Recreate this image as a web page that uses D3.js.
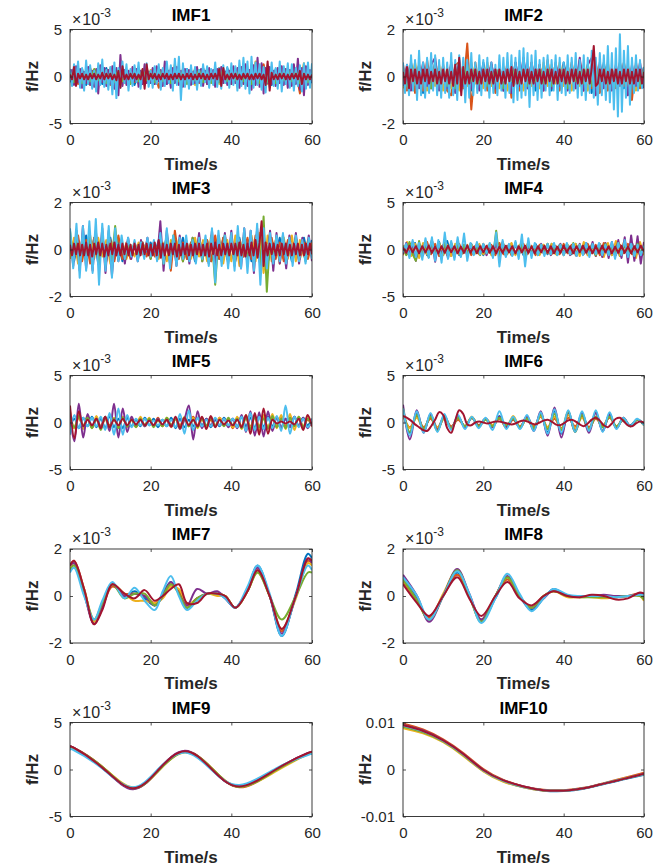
<!DOCTYPE html>
<html><head><meta charset="utf-8">
<script src="https://cdn.jsdelivr.net/npm/d3@7"></script>
<style>
body{margin:0;background:#fff;}
svg{display:block;}
text{font-family:"Liberation Sans",Arial,Helvetica,sans-serif;}
</style>
</head><body>
<svg id="c" width="662" height="867"></svg>
<script>
// ---------- categories / ticks ----------
const titles = ["IMF1","IMF2","IMF3","IMF4","IMF5","IMF6","IMF7","IMF8","IMF9","IMF10"];
const xTicks = [0,20,40,60];
const yTicksMilli5 = [-5,0,5];
const yTicksMilli2 = [-2,0,2];
const yTicksImf10 = [-0.01,0,0.01];
const colors = ["#0072BD","#D95319","#EDB120","#7E2F8E","#77AC30","#4DBEEE","#A2142F"];

// ---------- IMF1 (x1e-3), evenly sampled over 0..60 s ----------
const imf1Blue = [-0.6,0.7,-0.5,0.8,-0.9,0.6,-0.7,0.5,-0.8,0.9,-0.6,0.7,-0.5,0.8,-0.7,0.6,-0.9,0.5,-0.6,0.8,-0.7,0.9,-0.5,0.6,-0.8,0.7,-0.6,0.5,-0.9,0.8,-0.6,0.7,-0.5,0.9,-0.7,0.6,-0.8,0.5,-0.7,0.9,-0.6,0.8,-0.5,0.7,-0.9,0.6,-0.8,0.7,-0.5,0.6,-0.9,0.8,-0.6,0.7,-0.5,0.8,-0.7,0.6,-0.9,0.5,-0.7];
const imf1Orange = [-0.4,0.6,-0.8,0.5,-0.7,0.9,-0.6,0.8,-0.5,0.7,-0.9,0.6,-0.8,1.0,-0.7,0.5,-0.6,0.8,-0.7,0.9,-0.6,0.5,-1.2,0.7,-0.6,0.8,-0.5,0.7,-0.9,0.6,-0.5,0.8,-0.7,0.6,-0.8,0.5,-0.6,0.9,-0.7,0.6,-0.8,0.7,-0.5,0.9,-0.6,0.8,-0.7,0.6,1.3,-0.8,0.7,-0.6,0.9,-0.5,0.7,-0.8,0.6,-1.8,0.9,-0.7,0.6];
const imf1Yellow = [0.6,-0.5,0.8,-0.7,0.5,-0.9,0.7,-0.6,0.8,-0.5,0.9,-0.7,0.6,-0.8,0.5,-0.6,0.9,-0.7,0.6,-0.5,0.7,-0.8,0.6,-0.5,0.9,-0.7,1.3,-0.6,0.8,-0.5,0.7,-0.9,0.6,-0.7,0.8,-0.5,0.6,-0.8,0.7,-0.6,0.9,-0.5,0.7,-0.8,0.6,-0.9,1.6,-0.7,0.6,-0.8,0.7,-0.5,0.9,-0.6,0.7,-0.8,0.6,-0.5,1.4,-0.7,0.5];
const imf1Purple = [-0.5,0.7,-0.9,1.1,-0.6,0.8,-1.2,0.5,-0.7,1.0,-0.9,0.6,-1.1,0.8,-1.8,1.2,-0.6,0.9,-1.0,0.7,
 -0.8,1.1,-1.3,0.9,-2.0,2.3,-1.0,0.7,-0.9,0.6,-0.7,1.0,-0.5,0.8,-1.1,0.6,-0.8,1.3,-0.7,0.5,
 -0.6,0.9,-0.8,1.1,-0.5,0.7,-1.0,1.6,-0.8,0.6,-1.2,0.9,-0.7,1.0,-0.9,0.6,-1.1,0.8,-0.6,0.7,
 -0.9,0.5,-0.7,1.0,-0.6,0.8,-1.0,0.6,-0.8,0.9,-0.5,0.7,-1.1,0.8,-0.6,1.0,-0.7,0.5,-0.9,0.6,
 -0.8,1.1,-0.7,0.9,-1.2,1.0,-0.8,1.3,-1.0,0.7,-1.4,1.2,-0.9,2.0,-1.1,1.4,-1.8,0.9,-0.7,1.0,
 -0.8,0.6,-1.0,0.9,-0.7,1.1,-0.9,0.8,-1.2,0.7,-1.0,1.3,-0.8,1.9,-1.4,0.9,-2.0,1.1,-0.9,0.7,-0.6];
const imf1Green = [0.5,-0.6,0.4,-0.7,0.6,-0.5,0.8,-0.4,0.6,-0.7,0.5,-0.6,0.7,-0.5,0.4,-0.8,0.6,-0.5,0.7,-0.4,0.5,-0.6,0.8,-0.5,0.6,-0.7,0.4,-0.5,0.6,-0.8,0.5,-0.4,0.7,-0.6,0.5,-0.7,0.4,-0.6,0.8,-0.5,0.6,-0.4,0.7,-0.5,0.6,-0.8,0.5,-0.7,0.4,-0.6,0.5,-0.7,0.6,-0.4,0.8,-0.5,0.6,-0.7,0.5,-0.6,0.4];
const imf1LightBlue = [0.8,-1.0,1.3,-0.6,1.6,-1.2,0.9,-1.5,1.7,-0.8,1.2,-1.3,0.6,-1.6,1.4,-0.9,1.8,-1.1,0.7,-1.4,
 1.0,-1.9,1.5,-2.3,0.9,-1.2,1.6,-0.7,1.3,-1.5,0.8,-1.0,1.2,-0.6,1.5,-1.3,0.7,-0.9,1.4,-1.1,
 0.6,-1.2,1.1,-0.8,1.3,-1.4,0.9,-1.0,1.6,-0.7,1.2,-1.5,1.9,-0.9,2.1,-2.5,1.4,-1.1,0.8,-1.3,
 1.2,-0.8,1.0,-1.4,0.7,-1.0,1.3,-0.6,1.1,-1.2,0.8,-0.9,1.5,-1.1,0.9,-1.3,1.2,-0.7,1.0,-1.2,
 1.4,-0.9,1.1,-1.5,1.7,-1.0,2.0,-1.3,1.6,-1.8,2.1,-1.2,1.5,-0.9,1.3,-1.4,1.0,-1.7,1.2,-1.1,
 1.5,-1.0,0.9,-1.3,1.6,-1.6,1.1,-0.8,1.4,-1.2,1.3,-1.5,0.9,-1.0,1.2,-1.6,1.4,-1.3,1.5,-1.2,1.4];
const imf1DarkRed = [0.2,-0.3,1.0,-1.0,0.3,-0.2,0.3,-0.3,0.2,-0.3,0.3,-0.2,0.3,-0.3,0.2,-0.2,0.4,-0.3,0.3,-0.2,
 0.3,-0.3,0.2,-0.4,0.6,-1.2,1.1,-0.3,0.2,-0.3,0.3,-0.2,0.3,-0.3,0.2,-0.3,0.8,-1.3,1.3,-0.3,
 0.3,-0.2,0.3,-0.3,0.2,-0.3,0.3,-0.2,0.3,-0.3,0.2,-0.3,0.3,-0.2,0.3,-0.3,0.2,-0.3,0.3,-0.2,
 0.3,-0.3,0.2,-0.3,0.3,-0.2,0.3,-0.3,0.2,-0.3,0.3,-0.2,0.3,-0.3,0.8,-1.0,0.9,-0.3,0.2,-0.3,
 0.3,-0.2,0.3,-0.3,0.2,-0.3,0.3,-0.2,0.3,-0.3,0.2,-0.3,0.3,-0.2,0.3,-0.3,0.2,-0.9,1.6,-1.5,
 0.4,-0.3,0.2,-0.3,0.3,-0.2,0.3,-0.3,0.2,-0.3,0.3,-0.2,0.3,-0.3,0.6,-0.8,0.3,-0.3,0.2,-0.3,0.2];

// ---------- IMF2 (x1e-3) ----------
const imf2Blue = [0.4,-0.5,0.6,-0.3,0.5,-0.7,0.4,-0.5,0.6,-0.4,0.3,-0.6,0.5,-0.4,0.7,-0.5,0.4,-0.6,0.3,-0.5,0.6,-0.4,0.5,-0.3,0.4,-0.6,0.5,-0.4,0.6,-0.5,0.7,-0.4,0.5,-0.6,0.3,-0.5,0.4,-0.6,0.5,-0.4,0.6,-0.3,0.5,-0.4,0.6,-0.5,0.4,-0.7,0.5,-0.4,0.6,-0.5,0.3,-0.4,0.6,-0.5,0.4,-0.6,0.5,-0.3,0.4];
const imf2Orange = [0.5,-0.6,0.4,-0.7,0.5,-0.6,0.7,-0.5,0.6,-0.4,0.5,-0.6,-0.8,0.5,0.6,-0.5,1.4,-1.4,0.6,-0.5,0.4,-0.6,0.5,-0.7,0.4,-0.5,0.6,-0.9,0.5,-0.6,0.4,-0.5,0.6,-0.4,0.5,-0.6,0.7,-0.5,0.4,-0.6,0.5,-0.4,0.6,-0.5,0.7,-0.6,0.4,-0.5,0.6,-0.7,0.5,-0.6,0.4,-0.5,0.6,-0.4,0.5,-1.0,0.6,-0.5,0.4];
const imf2Yellow = [-0.5,0.4,-0.3,0.6,-0.4,0.5,-0.6,0.3,-0.4,0.5,-0.6,0.4,-0.5,0.3,-0.6,0.5,-0.4,0.6,-0.3,0.4,-0.5,0.6,-0.4,0.3,-0.5,0.4,-0.6,0.5,-0.3,0.4,-0.6,0.5,-0.4,0.3,-0.5,0.6,-0.4,0.5,-0.3,0.6,-0.4,0.5,-0.6,0.3,-0.4,0.5,-0.6,0.4,-0.3,0.5,-0.4,0.6,-0.5,0.3,-0.4,0.6,-0.5,0.4,-0.6,0.3,-0.4];
const imf2Purple = [-0.4,0.5,-0.6,0.4,-0.5,0.6,-0.4,0.5,0.8,-0.6,0.4,-0.5,0.6,-0.7,0.5,-0.4,0.6,-0.5,0.4,-0.6,0.5,-0.4,0.6,-0.5,0.4,-0.6,0.5,-0.7,0.6,-0.4,0.8,-0.5,0.6,-0.4,0.5,-0.6,0.4,-0.5,0.6,-0.4,0.5,-0.6,0.4,-0.5,0.8,-0.6,0.5,0.8,-0.8,0.6,-0.5,0.4,-0.6,0.5,-0.4,0.6,-0.8,0.5,-0.4,0.6,-0.5];
const imf2Green = [0.3,-0.4,0.5,-0.3,0.4,-0.2,0.3,-0.5,0.4,-0.3,0.2,-0.4,0.3,-0.5,0.4,-0.3,0.5,-0.2,0.4,-0.3,0.2,-0.4,0.3,-0.2,0.4,-0.5,0.3,-0.2,0.4,-0.3,0.5,-0.4,0.3,-0.2,0.4,-0.3,0.5,-0.4,0.2,-0.3,0.4,-0.5,0.3,-0.2,0.4,-0.3,0.5,-0.4,0.3,-0.2,0.4,-0.3,0.2,-0.4,0.5,-0.3,0.4,-0.2,0.3,-0.4,0.3];
const imf2LightBlue = [0.6,-0.7,0.5,-0.8,0.9,-0.6,0.7,-1.0,1.1,-0.8,0.6,-0.9,0.8,-0.7,1.0,-0.6,0.9,-0.8,0.7,-0.9,
 0.8,-0.7,0.6,-0.9,1.0,-0.8,0.7,-1.0,0.9,-0.6,0.8,-1.1,0.7,-0.9,1.0,-0.8,0.6,-0.7,0.9,-0.8,
 0.7,-0.6,0.8,-0.9,0.6,-0.7,0.5,-0.8,0.9,-0.6,0.8,-0.9,1.0,-0.7,0.9,-1.1,0.8,-1.0,1.1,-0.9,
 1.2,-0.8,1.0,-1.3,0.9,-0.8,1.1,-1.0,0.7,-0.9,0.8,-0.6,0.9,-0.8,0.7,-0.6,0.9,-1.0,0.8,-0.7,
 0.6,-0.8,0.9,-0.7,0.8,-0.6,1.0,-0.9,0.7,-0.8,0.9,-1.0,0.8,-0.7,1.1,-0.9,0.8,-1.2,1.0,-0.8,
 0.9,-1.0,1.3,-1.1,1.0,-1.4,1.2,-1.7,1.8,-1.5,1.1,-0.9,1.3,-1.2,0.8,-0.7,0.9,-0.6,0.7,-0.5,0.4];
const imf2DarkRed = [0.2,-0.3,0.4,-0.5,0.3,-0.2,0.3,-0.3,0.2,-0.3,0.3,-0.2,0.3,-0.3,0.2,-0.2,0.3,-0.3,0.2,-0.3,
 0.3,-0.2,0.3,-0.3,0.2,-0.4,0.5,-0.3,0.8,-0.8,0.4,-0.3,0.2,-0.3,0.3,-0.2,0.3,-0.3,0.2,-0.3,
 0.3,-0.2,0.3,-0.3,0.2,-0.3,0.3,-0.2,0.3,-0.3,0.2,-0.3,0.3,-0.2,0.4,-0.4,0.3,-0.3,0.2,-0.3,
 0.3,-0.2,0.3,-0.3,0.2,-0.3,0.3,-0.2,0.3,-0.3,0.2,-0.3,0.3,-0.2,0.3,-0.3,0.2,-0.3,0.3,-0.2,
 0.3,-0.3,0.2,-0.3,0.3,-0.2,0.3,-0.3,0.2,-0.3,0.3,-0.2,0.3,-0.3,0.4,1.3,-0.4,-0.3,0.3,-0.2,
 0.3,-0.3,0.2,-0.3,0.3,-0.2,0.3,-0.3,0.2,-0.3,0.3,-0.2,0.3,-0.3,0.2,-0.3,0.3,-0.2,0.3,-0.3,0.2];

// ---------- IMF3 (x1e-3) ----------
const imf3Blue = [0.3,-0.5,0.4,-0.3,0.6,-0.4,0.5,-0.6,0.4,-0.3,0.5,-0.4,0.3,-0.5,0.2,-0.3,0.2,-0.3,0.3,-0.2,0.3,-0.2,0.4,-0.3,0.6,-0.5,0.4,-0.3,0.5,-0.4,0.3,-0.5,0.4,-0.3,0.4,-0.5,0.3,-0.4,0.5,-0.4,0.3,-0.4,0.5,-0.3,0.4,-0.5,0.3,-0.4,0.5,-0.6,0.4,-0.3,0.5,-0.4,0.3,-0.5,0.4,-0.3,0.5,-0.3,0.4];
const imf3Orange = [0.5,-0.4,0.6,-0.5,0.4,-0.6,0.5,-0.4,0.6,-0.5,0.4,-0.5,0.6,-0.4,0.3,-0.4,0.3,-0.2,0.3,-0.3,0.2,-0.3,0.3,-0.4,0.5,-0.9,0.8,-0.4,0.3,-0.4,0.3,-0.4,0.5,-0.3,0.4,-0.5,0.6,-0.4,0.5,-0.4,0.3,-0.5,0.4,-0.3,0.5,-0.4,0.6,-0.5,0.4,-0.6,0.5,-0.4,0.3,-0.5,0.4,-0.3,0.5,-0.4,0.3,-0.4,0.3];
const imf3Yellow = [-0.4,0.5,-0.6,0.4,-0.5,0.6,-0.4,0.5,-0.3,0.4,-0.6,0.5,-0.4,0.3,-0.4,0.2,-0.3,0.3,-0.2,0.3,-0.3,0.2,-0.4,0.3,-0.5,0.4,-0.3,0.4,-0.5,0.3,-0.4,0.5,-0.3,0.4,-0.5,0.6,-0.4,0.5,-0.6,0.4,-0.5,0.6,-0.7,0.5,-0.4,0.6,-0.5,0.7,-1.0,0.6,-0.5,0.4,-0.6,0.5,-0.4,0.6,-0.5,0.4,-0.3,0.4,-0.3];
const imf3Purple = [0.6,-0.7,0.8,-0.9,1.0,-0.8,0.7,-0.9,0.8,-0.7,0.9,-1.0,0.8,-1.1,0.6,
 -0.5,0.4,-0.6,0.5,-0.4,0.3,-0.5,0.4,-0.3,0.5,-0.4,0.3,-0.4,
 1.2,-0.9,0.8,-0.6,0.5,-0.7,
 0.6,-0.5,0.4,-0.6,0.5,-0.4,0.7,-0.5,0.4,
 -0.6,0.8,-0.7,0.6,-0.5,0.7,
 -0.6,0.8,-0.7,0.6,-0.8,0.9,-0.7,0.8,-1.0,0.9,-0.8,0.7,-0.6,0.8,-0.9,
 0.7,-0.6,0.5,-0.8,0.6,-0.5,0.7,-0.6,0.5,-0.4,0.6,-0.5];
const imf3Green = [0.8,-0.4,0.5,-0.6,0.4,-0.5,0.6,-0.4,0.5,-0.6,0.4,-0.5,0.6,-0.4,1.0,
 -0.4,0.3,-0.4,0.3,-0.2,0.3,-0.4,0.3,-0.2,0.3,-0.4,0.3,-0.3,
 0.5,-0.6,0.4,-0.5,0.6,-0.4,
 0.4,-0.5,0.3,-0.4,0.5,-0.3,0.4,-0.5,0.3,
 -0.5,0.4,-1.5,0.5,-0.4,0.6,
 -0.5,0.4,-0.6,0.5,-0.4,0.6,-0.5,0.4,-0.6,0.5,-0.7,1.4,-1.8,0.5,-0.4,
 0.5,-0.4,0.6,-0.5,0.4,-0.3,0.5,-0.4,0.3,-0.5,0.4,-0.3];
const imf3LightBlue = [0.9,-0.8,1.1,-1.2,1.0,-0.9,1.2,-1.0,1.3,-1.5,1.1,-0.9,1.0,-1.2,0.9,
 -0.5,0.6,-0.4,0.5,-0.3,0.4,-0.5,0.3,-0.4,0.5,-0.3,0.4,-0.5,
 0.7,-0.6,0.9,-0.8,0.6,-0.7,
 0.5,-0.4,0.6,-0.5,0.4,-0.6,0.5,-0.4,0.6,
 -0.7,0.9,-1.4,0.8,-0.7,0.6,
 -0.8,0.7,-0.9,1.0,-0.8,0.9,-1.0,0.8,-0.9,1.1,-1.5,0.9,-0.8,0.7,-0.6,
 0.6,-0.5,0.7,-0.6,0.5,-0.7,0.6,-0.5,0.4,-0.6,0.5,-0.4];
const imf3DarkRed = [0.2,-0.25,0.25,-0.2,0.25,-0.25,0.2,-0.25,0.3,-0.25,0.2,-0.3,0.25,-0.2,0.3,-0.25,0.25,-0.3,0.2,-0.25,
 0.25,-0.2,0.3,-0.25,0.2,-0.25,0.25,-0.2,0.25,-0.25,0.2,-0.25,0.25,-0.2,0.2,-0.25,0.25,-0.2,0.25,-0.25,
 0.2,-0.25,0.3,-0.25,0.4,-0.35,0.25,-0.25,0.2,-0.25,0.25,-0.2,0.25,-0.3,0.2,-0.25,0.25,-0.2,0.25,-0.25,
 0.2,-0.25,0.25,-0.2,0.25,-0.25,0.2,-0.25,0.25,-0.3,0.25,-0.2,0.3,-0.25,0.2,-0.25,0.25,-0.2,0.25,-0.25,
 0.25,-0.2,0.25,-0.25,0.3,-0.25,0.2,-0.3,0.25,-0.25,0.3,-0.25,0.4,-0.35,0.3,1.2,-0.7,0.3,-0.25,0.25,
 -0.2,0.25,-0.25,0.2,-0.25,0.25,-0.2,0.25,-0.25,0.2,-0.25,0.25,-0.2,0.25,-0.25,0.2,-0.25,0.25,-0.2,0.25,-0.2];

// ---------- IMF4 (x1e-3) ----------
const imf4Blue = [-0.5,0.6,-0.4,0.7,-0.8,0.5,-0.6,0.7,-0.5,0.8,-0.6,0.9,-0.7,0.5,-0.6,0.4,-0.5,0.6,-0.4,0.5,-0.6,0.4,-0.5,0.7,-0.6,0.5,-0.4,0.6,-0.5,0.4,-0.6,0.5,-0.4,0.6,-0.5,0.4,-0.5,0.6,-0.4,0.5,-0.6,0.4,-0.5,0.6,-0.4,0.5,-0.6,0.5,-0.4,0.6,-0.5,0.4,-0.6,0.5,-0.7,0.6,-0.5,0.7,-0.6,0.5,-0.4];
const imf4Orange = [0.4,-0.5,0.6,-0.7,0.5,-0.6,0.8,-0.5,0.6,-0.7,0.5,-0.6,0.4,-0.5,0.6,-0.4,0.5,-0.6,0.4,-0.5,0.6,-0.4,0.5,-0.6,0.7,-0.5,0.4,-0.6,0.5,-0.4,0.6,-0.5,0.4,-0.6,0.5,-0.4,0.6,-0.5,0.4,-0.5,0.6,-0.4,0.5,-0.6,0.4,-0.5,0.6,-0.4,0.5,-0.6,0.7,-0.5,0.4,-0.6,0.5,-0.4,0.6,-0.5,0.4,-0.6,0.5];
const imf4Yellow = [-0.6,0.8,-0.7,0.6,-0.9,0.7,-0.5,0.6,-0.8,0.7,-0.6,0.5,-0.7,0.6,-0.5,0.4,-0.6,0.5,-0.4,0.6,-0.5,0.4,-0.6,0.5,-0.4,0.6,-0.5,0.7,-0.6,0.5,-0.4,0.6,-0.5,0.4,-0.6,0.5,-0.4,0.6,-0.5,0.4,-0.6,0.5,-0.4,0.6,-0.7,0.8,-0.6,0.5,-0.7,0.6,-0.8,0.7,-0.6,0.9,-0.7,0.8,-0.6,0.7,-0.9,0.8,-0.6];
const imf4Purple = [-0.5,0.7,-0.6,0.8,-1.2,0.6,-0.7,0.9,-0.8,1.0,-1.3,0.7,-0.6,0.8,-0.9,
 0.7,-0.8,0.6,-0.7,0.5,-0.6,0.4,-0.5,0.6,-0.4,0.5,-0.6,0.4,
 -0.5,0.7,-0.6,0.8,-0.7,0.5,
 -0.6,0.7,-0.5,0.6,-0.7,0.5,-0.6,0.4,-0.5,
 0.6,-0.4,0.5,-0.6,0.4,-0.5,
 0.6,-0.5,0.4,-0.6,0.5,-0.7,0.6,-0.5,0.7,-0.6,0.8,-0.7,0.6,-0.8,0.7,
 -0.9,0.8,-0.7,1.0,-0.9,1.3,-1.4,1.5,-1.2,1.4,-1.5,0.8];
const imf4Green = [0.4,-0.6,0.8,-0.5,-1.2,0.9,-0.7,0.6,-0.8,1.0,-0.7,0.6,-0.9,0.8,-0.6,
 0.7,-0.5,0.6,-0.7,0.5,-0.4,0.6,-0.5,0.4,-0.6,0.5,-0.4,0.6,
 -0.8,2.0,-1.0,0.7,-0.6,0.5,
 -0.6,0.7,-0.5,0.6,-0.8,0.6,-0.5,0.4,-0.6,
 0.5,-0.4,0.6,-0.5,0.4,-0.6,
 0.5,-0.4,0.6,-0.5,0.7,-0.6,0.5,-0.4,0.6,-0.5,0.4,-0.6,0.5,-0.4,0.6,
 -0.5,0.4,-0.6,0.7,-0.5,0.6,-0.4,0.5,-0.7,0.6,-0.5,0.4];
const imf4LightBlue = [-0.3,0.6,-0.9,1.0,-0.8,0.7,-1.1,1.2,-0.9,1.3,-1.2,1.0,-1.4,1.8,-1.0,
 0.9,-1.1,1.3,-0.8,1.7,-1.2,0.7,-0.6,0.8,-0.5,0.6,-0.4,0.7,
 -0.9,1.8,-1.8,1.0,-0.8,0.6,
 -0.7,0.9,-1.0,1.6,-1.8,1.2,-0.9,0.7,-0.6,
 0.5,-0.7,0.6,-0.5,0.7,-0.6,
 0.5,-0.6,0.7,-0.5,0.6,-0.7,0.5,-0.6,0.7,-0.8,0.6,-0.5,0.7,-0.6,0.5,
 -0.6,0.8,-1.0,0.7,-0.6,1.0,-0.8,0.6,-0.7,0.5,-0.6,0.4];
const imf4DarkRed = [0.2,-0.35,0.4,-0.3,0.35,-0.4,0.35,-0.3,0.4,-0.35,0.3,-0.4,0.35,-0.35,0.4,
 -0.3,0.35,-0.4,0.3,-0.35,0.4,-0.35,0.3,-0.4,0.35,-0.3,0.4,-0.35,
 0.35,-0.4,0.3,-0.35,0.4,-0.3,
 0.35,-0.4,0.35,-0.3,0.4,-0.35,0.3,-0.4,0.35,
 -0.3,0.4,-0.35,0.35,-0.4,0.3,
 -0.35,0.4,-0.3,0.35,-0.4,0.35,-0.3,0.4,-0.35,0.3,-0.4,0.35,-0.35,0.4,-0.3,
 0.35,-0.4,0.3,-0.35,0.4,-0.35,0.3,-0.4,0.35,-0.3,0.4,-0.2];

// ---------- IMF5 (x1e-3) ----------
const imf5Blue = [-0.5,0.4,-0.6,0.5,-0.4,0.6,-0.5,0.4,-0.6,0.7,-0.5,0.4,-0.6,0.5,-0.4,0.3,-0.4,0.5,-0.3,0.4,-0.5,0.3,-0.4,0.5,-0.6,0.4,-0.5,0.3,-0.4,0.5,-0.3,0.4,-0.5,0.3,-0.4,0.5,-0.3,0.4,-0.5,0.6,-0.4,0.5,-0.6,0.7,-0.5,0.6,-0.4,0.5,-0.6,0.4,-0.5,0.6,-0.4,0.5,-0.3,0.4];
const imf5Orange = [0.4,-0.6,0.5,-0.4,0.6,-0.5,0.3,-0.4,0.5,-0.3,0.4,-0.5,0.6,-0.4,0.3,-0.4,0.5,-0.3,0.4,-0.3,0.5,-0.4,0.3,-0.5,0.4,-0.3,0.5,-0.4,0.6,-0.3,0.4,-0.5,0.3,-0.4,0.5,-0.3,0.4,-0.6,0.5,-0.4,0.6,-0.5,0.7,-0.4,0.5,-0.6,0.4,-0.5,0.6,-0.4,0.5,-0.3,0.4,-0.5,0.3,-0.4];
const imf5Yellow = [1.2,-0.6,0.8,-0.7,0.5,-0.6,0.7,-0.5,0.4,-0.6,0.5,-0.4,0.6,-0.5,0.4,-0.5,0.6,-0.4,0.5,-0.4,0.3,-0.4,0.5,-0.3,0.4,-0.5,0.6,-0.4,0.5,-0.6,0.4,-0.5,0.6,-0.4,0.5,-0.3,0.4,-0.5,0.6,-0.7,0.8,-0.6,0.7,-0.9,0.8,-0.7,0.9,-0.6,0.8,-0.7,0.9,-0.8,0.6,-0.5,0.7,-0.4];
const imf5Purple = [0.5,-2.0,2.0,-1.6,0.9,-0.5,0.4,-0.5,0.6,-0.9,2.0,-1.6,1.5,-1.0,0.6,-0.4,0.3,-0.4,0.3,-0.3,0.4,-0.3,0.3,-0.4,0.5,-0.7,0.3,1.8,-1.8,1.2,-0.6,0.4,-0.3,0.4,-0.3,0.4,-0.5,0.4,-0.6,0.8,-1.0,1.2,-1.4,1.1,-1.5,1.2,-0.9,0.6,-0.5,0.4,-0.5,0.6,-0.4,0.5,-0.6,0.3];
const imf5Green = [0.6,-0.5,0.7,-0.4,0.5,-0.6,0.4,-0.8,0.6,-0.5,0.4,-0.6,0.5,-0.4,0.3,-0.5,0.4,-0.3,0.4,-0.5,0.3,-0.4,0.5,-0.3,0.4,-0.6,0.5,-0.4,0.3,-0.5,0.4,-0.3,0.5,-0.4,0.3,-0.4,0.5,-0.3,0.4,-0.6,0.5,-0.7,0.6,-0.5,0.4,-0.6,0.7,-0.5,0.4,-0.6,0.5,-0.4,0.6,-0.5,0.4,-0.3];
const imf5LightBlue = [-1.3,0.8,-0.6,0.5,-0.4,0.5,-0.4,0.6,-0.8,1.0,-1.3,1.5,-1.3,0.8,-0.5,0.4,-0.3,0.4,-0.3,0.2,-0.3,0.3,-0.4,0.3,-0.5,0.9,-1.2,1.3,-0.8,0.5,-0.4,0.3,-0.4,0.5,-0.3,0.4,-0.3,0.4,-0.5,0.6,-0.9,1.0,-0.8,0.6,-0.7,0.5,-0.6,0.7,-0.9,1.8,-1.2,0.6,-0.5,0.4,-0.5,0.3];
const imf5DarkRed = [1.8,-1.7,1.2,-0.4,0.3,-0.3,0.4,-0.6,0.6,-0.5,0.3,-0.3,0.4,-0.3,0.3,-0.2,0.3,-0.3,0.2,-0.3,0.3,-0.2,0.3,-0.4,0.6,-0.6,0.5,-0.3,0.3,-0.4,0.6,-0.7,0.7,-0.5,0.3,-0.2,0.2,-0.3,0.3,-0.5,0.8,-1.2,1.0,-1.3,1.5,-1.2,0.3,-0.1,0.1,-0.1,0.1,-0.2,0.4,-0.8,0.8,-0.4];

// ---------- IMF6 (x1e-3) ----------
const imf6Blue = [1.2,-1.1,0.9,-0.8,0.7,-0.6,0.5,-0.6,0.5,-0.4,0.5,-0.3,0.4,-0.5,0.7,-0.5,0.4,-0.5,0.6,-0.7,0.9,-1.0,1.2,-1.2,1.0,-0.9,1.0,-0.8,1.1,-0.9,0.9,-0.6,0.4,-0.3,0.3,-0.2];
const imf6Orange = [0.8,-0.5,0.6,-0.5,0.4,-0.6,0.5,-0.4,0.3,-0.4,0.5,-0.3,0.4,-0.3,0.4,-0.5,0.3,-0.4,0.5,-0.4,0.6,-0.5,0.4,-0.6,0.5,-0.4,0.6,-0.5,0.4,-0.3,0.5,-0.4,0.3,-0.4,0.3,-0.2];
const imf6Yellow = [1.0,-0.6,0.5,-0.7,0.6,-0.5,0.4,-0.6,0.5,-0.4,0.6,-0.5,0.4,-0.3,0.5,-0.6,0.7,-0.5,0.4,-0.6,0.7,-0.5,0.6,-0.7,0.8,-0.6,0.5,-0.7,0.6,-0.5,0.7,-0.6,0.5,-0.4,0.3,-0.3];
const imf6Purple = [1.9,-1.8,1.3,-1.1,0.9,-0.8,0.7,-0.6,0.6,-0.5,0.5,-0.4,0.4,-0.5,0.6,-0.5,0.4,-0.6,0.7,-0.9,1.2,-1.4,1.6,-1.6,1.2,-1.0,0.9,-1.1,1.0,-0.9,0.8,-0.6,0.5,-0.4,0.3,-0.2];
const imf6Green = [1.5,-1.0,0.8,-0.7,0.6,-0.9,0.7,-0.6,0.5,-0.4,0.5,-0.4,0.3,-0.4,0.5,-0.3,0.4,-0.5,0.4,-0.6,0.8,-0.7,0.9,-0.8,1.2,-1.0,0.8,-0.7,0.6,-0.5,0.6,-0.4,0.3,-0.4,0.3,-0.2];
const imf6LightBlue = [1.5,-1.4,1.2,-1.1,1.0,-1.0,0.9,-0.8,0.8,-0.7,0.6,-0.6,0.5,-0.8,1.2,-0.7,0.6,-0.7,0.8,-0.9,1.1,-1.2,1.4,-1.1,1.3,-1.0,1.2,-0.9,1.3,-1.0,1.1,-0.7,0.5,-0.4,0.4,-0.3];
const imf6DarkRed = [0.7,0.5,0.2,-0.2,-0.5,-0.8,-0.9,-0.4,0.3,1.1,0.8,-0.6,-1.1,0.2,1.3,0.9,-0.2,-0.3,0.0,0.1,0.0,-0.1,0.0,0.1,0.1,0.0,-0.1,-0.2,-0.1,0.1,0.2,0.1,-0.1,-0.2,0.0,0.2,0.3,0.1,-0.2,-0.3,-0.1,0.2,0.3,0.1,-0.2,-0.4,-0.1,0.3,0.5,0.2,-0.3,-0.5,-0.1,0.4,0.5,0.1,-0.3,-0.4,-0.1,0.1,0.0];

// ---------- IMF7 (x1e-3), values at knot times ----------
const imf7Time = [0,1,3.5,6,8,10.5,13.5,16,18.5,21,23,25,27,29,31.5,34,36.5,38.5,41,44,46.5,49.5,52.5,56,59,60];
const imf7Blue      = [1.1,1.4,0.1,-1.1,-0.4,0.5,0.0,0.2,-0.1,-0.4,0.1,0.6,0.1,-0.5,-0.1,0.1,0.1,-0.1,-0.5,0.3,1.3,0.0,-1.7,0.1,1.8,1.6];
const imf7Orange    = [1.3,1.5,0.3,-1.2,-0.5,0.4,0.1,0.1,0.0,-0.3,0.0,0.5,0.2,-0.4,-0.1,0.1,0.1,0.0,-0.5,0.2,1.1,0.0,-1.5,0.0,1.5,1.4];
const imf7Yellow    = [1.2,1.4,0.3,-1.1,-0.5,0.5,0.1,-0.2,-0.2,-0.3,-0.1,0.4,0.3,-0.3,-0.2,0.1,0.0,0.0,-0.5,0.2,1.0,0.0,-1.4,-0.1,1.4,1.3];
const imf7Purple    = [1.3,1.4,0.1,-1.2,-0.5,0.5,0.0,0.1,0.0,-0.4,0.0,0.6,0.1,-0.4,0.3,0.1,0.2,-0.1,-0.5,0.3,1.2,0.0,-1.6,0.0,1.6,1.4];
const imf7Green     = [1.1,1.3,0.2,-1.0,-0.3,0.5,-0.1,0.1,0.1,-0.4,0.0,0.5,0.1,-0.5,-0.1,0.1,0.1,0.0,-0.5,0.2,1.0,0.0,-1.0,0.0,1.0,1.0];
const imf7LightBlue = [1.0,1.2,0.0,-1.0,-0.2,0.6,-0.1,0.35,-0.2,-0.6,0.2,0.85,0.0,-0.6,-0.2,0.1,0.1,-0.1,-0.5,0.4,1.3,0.1,-1.7,0.0,1.3,1.1];
const imf7DarkRed   = [1.3,1.5,0.3,-1.2,-0.6,0.5,0.1,-0.1,0.25,-0.2,0.0,0.3,0.5,-0.3,-0.3,0.1,0.1,0.0,-0.5,0.2,1.1,0.0,-1.4,0.0,1.6,1.5];

// ---------- IMF8 (x1e-3) ----------
const imf8Time = [0,3.5,6.5,10,13.5,16.5,19.5,23,26,29,32,35,37.5,41,44,47,50,53,56,59,60];
const imf8Blue      = [0.8,-0.1,-1.0,0.0,1.0,0.0,-1.05,-0.1,0.8,0.0,-0.6,-0.1,0.3,0.0,0.0,0.0,0.0,0.0,0.0,0.05,0.0];
const imf8Orange    = [0.6,-0.2,-0.9,0.0,0.9,0.0,-1.0,0.0,0.7,0.0,-0.5,0.0,0.2,0.0,-0.05,0.0,-0.05,-0.05,0.0,0.1,-0.1];
const imf8Yellow    = [0.7,-0.2,-1.0,0.1,1.1,0.0,-1.1,0.0,0.8,0.0,-0.5,0.0,0.2,-0.05,-0.05,-0.05,-0.1,-0.05,0.0,0.0,-0.2];
const imf8Purple    = [0.9,0.0,-1.1,0.0,1.15,0.1,-1.0,0.0,0.85,0.0,-0.5,-0.1,0.25,0.0,0.0,0.0,0.05,0.0,0.0,0.1,0.1];
const imf8Green     = [0.7,-0.2,-1.0,0.0,1.1,0.0,-1.1,0.0,0.8,0.0,-0.5,0.0,0.2,0.0,-0.05,-0.05,-0.05,-0.05,0.0,0.0,-0.15];
const imf8LightBlue = [0.8,0.0,-1.0,0.0,1.05,0.1,-1.15,-0.1,0.95,0.1,-0.65,-0.1,0.3,0.05,0.0,0.0,0.0,-0.05,0.0,0.05,0.05];
const imf8DarkRed   = [0.5,-0.3,-0.85,0.0,0.8,-0.1,-0.85,0.0,0.6,-0.1,-0.4,0.0,0.2,0.0,-0.05,0.05,0.0,-0.15,-0.1,0.15,0.1];

// ---------- IMF9 (x1e-3) ----------
const imf9Time = [0,1,8,15.5,22,28.5,35,42,51,59,60];
const imf9Blue      = [2.2,2.25,0.2,-2.0,0.0,1.9,0.1,-1.8,0.0,1.7,1.7];
const imf9Orange    = [2.3,2.3,0.3,-2.0,-0.1,1.9,0.2,-1.9,-0.1,1.7,1.7];
const imf9Yellow    = [2.2,2.2,0.3,-1.9,-0.1,1.8,0.2,-1.8,-0.2,1.6,1.6];
const imf9Purple    = [2.3,2.3,0.2,-2.1,0.0,2.0,0.1,-1.8,0.0,1.75,1.75];
const imf9Green     = [2.2,2.25,0.3,-2.0,-0.1,1.85,0.2,-1.85,-0.1,1.65,1.65];
const imf9LightBlue = [2.0,2.05,0.1,-1.9,0.1,1.8,0.0,-1.65,0.1,1.55,1.55];
const imf9DarkRed   = [2.3,2.3,0.2,-2.0,0.0,1.95,0.1,-1.8,0.0,1.75,1.75];

// ---------- IMF10 (raw Hz) ----------
const imf10Time = [0,5,10,15,20,25,30,35,40,45,50,55,60];
const imf10Blue      = [0.0092,0.0080,0.0060,0.0031,-0.0003,-0.0025,-0.0038,-0.0045,-0.0046,-0.0041,-0.0031,-0.0021,-0.0011];
const imf10Orange    = [0.0098,0.0085,0.0064,0.0035,0.0001,-0.0022,-0.0036,-0.0043,-0.0044,-0.0039,-0.0029,-0.0018,-0.0007];
const imf10Yellow    = [0.0088,0.0077,0.0058,0.0029,-0.0004,-0.0026,-0.0038,-0.0045,-0.0045,-0.0040,-0.0030,-0.0019,-0.0009];
const imf10Purple    = [0.0095,0.0083,0.0062,0.0033,-0.0001,-0.0023,-0.0036,-0.0044,-0.0045,-0.0040,-0.0030,-0.0020,-0.0009];
const imf10Green     = [0.0091,0.0079,0.0060,0.0031,-0.0002,-0.0024,-0.0037,-0.0044,-0.0045,-0.0040,-0.0030,-0.0020,-0.0010];
const imf10LightBlue = [0.0093,0.0081,0.0061,0.0032,-0.0002,-0.0024,-0.0037,-0.0044,-0.0045,-0.0040,-0.0030,-0.0020,-0.0010];
const imf10DarkRed   = [0.0094,0.0082,0.0062,0.0033,-0.0001,-0.0023,-0.0036,-0.0044,-0.0045,-0.0040,-0.0030,-0.0020,-0.0009];

// ---------- panel table built from the arrays ----------
const panels = [
  {series:[imf1Blue,imf1Orange,imf1Yellow,imf1Purple,imf1Green,imf1LightBlue,imf1DarkRed], time:null, dom:[-5,5], ticks:yTicksMilli5, exp:true, curve:"linear"},
  {series:[imf2Blue,imf2Orange,imf2Yellow,imf2Purple,imf2Green,imf2LightBlue,imf2DarkRed], time:null, dom:[-2,2], ticks:yTicksMilli2, exp:true, curve:"linear"},
  {series:[imf3Blue,imf3Orange,imf3Yellow,imf3Purple,imf3Green,imf3LightBlue,imf3DarkRed], time:null, dom:[-2,2], ticks:yTicksMilli2, exp:true, curve:"linear"},
  {series:[imf4Blue,imf4Orange,imf4Yellow,imf4Purple,imf4Green,imf4LightBlue,imf4DarkRed], time:null, dom:[-5,5], ticks:yTicksMilli5, exp:true, curve:"linear"},
  {series:[imf5Blue,imf5Orange,imf5Yellow,imf5Purple,imf5Green,imf5LightBlue,imf5DarkRed], time:null, dom:[-5,5], ticks:yTicksMilli5, exp:true, curve:"cr"},
  {series:[imf6Blue,imf6Orange,imf6Yellow,imf6Purple,imf6Green,imf6LightBlue,imf6DarkRed], time:null, dom:[-5,5], ticks:yTicksMilli5, exp:true, curve:"cr"},
  {series:[imf7Blue,imf7Orange,imf7Yellow,imf7Purple,imf7Green,imf7LightBlue,imf7DarkRed], time:imf7Time, dom:[-2,2], ticks:yTicksMilli2, exp:true, curve:"cr"},
  {series:[imf8Blue,imf8Orange,imf8Yellow,imf8Purple,imf8Green,imf8LightBlue,imf8DarkRed], time:imf8Time, dom:[-2,2], ticks:yTicksMilli2, exp:true, curve:"cr"},
  {series:[imf9Blue,imf9Orange,imf9Yellow,imf9Purple,imf9Green,imf9LightBlue,imf9DarkRed], time:imf9Time, dom:[-5,5], ticks:yTicksMilli5, exp:true, curve:"natural"},
  {series:[imf10Blue,imf10Orange,imf10Yellow,imf10Purple,imf10Green,imf10LightBlue,imf10DarkRed], time:imf10Time, dom:[-0.01,0.01], ticks:yTicksImf10, exp:false, curve:"natural"}
];
const curves = {linear:d3.curveLinear, cr:d3.curveCatmullRom.alpha(0.5), natural:d3.curveNatural};

// ---------- layout ----------
const colX = [[70,312],[403,644]];
const rowTop = [29.5,202.5,375.5,549,722.5];
const PH = 94;
const ink = "#262626";
const FONT = '"Liberation Sans",Arial,Helvetica,sans-serif';

const svg = d3.select("#c");
svg.append("rect").attr("width",662).attr("height",867).attr("fill","#fff");
const defs = svg.append("defs");

panels.forEach((p, k) => {
  const col = k % 2, row = Math.floor(k / 2);
  const [x0, x1] = colX[col];
  const y0 = rowTop[row], y1 = y0 + PH;
  const x = d3.scaleLinear().domain([0,60]).range([x0,x1]);
  const y = d3.scaleLinear().domain(p.dom).range([y1,y0]);
  const g = svg.append("g");

  const cid = "clip" + k;
  defs.append("clipPath").attr("id", cid).append("rect")
    .attr("x", x0).attr("y", y0).attr("width", x1 - x0).attr("height", PH);

  const lines = g.append("g").attr("clip-path", `url(#${cid})`);
  p.series.forEach((vals, s) => {
    const n = vals.length;
    const ts = p.time ? p.time : d3.range(n).map(i => i * 60 / (n - 1));
    const line = d3.line()
      .x((d, i) => x(ts[i]))
      .y(d => y(d))
      .curve(curves[p.curve]);
    lines.append("path").datum(vals)
      .attr("d", line)
      .attr("fill","none")
      .attr("stroke", colors[s])
      .attr("stroke-width", 2)
      .attr("stroke-linejoin","round");
  });

  // axes
  const styleAxis = sel => {
    sel.attr("font-family", FONT).attr("font-size", 15).attr("color", ink);
    sel.select(".domain").remove();
    sel.selectAll("line").attr("stroke-width", 0.8);
  };
  g.append("g").attr("transform", `translate(0,${y1})`)
    .call(d3.axisBottom(x).tickValues(xTicks).tickSize(-3).tickPadding(11).tickFormat(d3.format("d")))
    .call(styleAxis);
  g.append("g").attr("transform", `translate(0,${y0})`)
    .call(d3.axisTop(x).tickValues(xTicks).tickSize(-3).tickFormat(""))
    .call(styleAxis);
  g.append("g").attr("transform", `translate(${x0},0)`)
    .call(d3.axisLeft(y).tickValues(p.ticks).tickSize(-3).tickPadding(8).tickFormat(d => String(d)))
    .call(styleAxis);
  g.append("g").attr("transform", `translate(${x1},0)`)
    .call(d3.axisRight(y).tickValues(p.ticks).tickSize(-3).tickFormat(""))
    .call(styleAxis);

  g.append("rect").attr("x", x0).attr("y", y0).attr("width", x1 - x0).attr("height", PH)
    .attr("fill","none").attr("stroke", ink).attr("stroke-width", 0.9);

  // title
  g.append("text").attr("x", (x0 + x1) / 2).attr("y", y0 - 9)
    .attr("text-anchor","middle").attr("font-weight","bold").attr("font-size", 17)
    .attr("fill","#000").text(titles[k]);
  // x label
  g.append("text").attr("x", (x0 + x1) / 2).attr("y", y1 + 46)
    .attr("text-anchor","middle").attr("font-weight","bold").attr("font-size", 17)
    .attr("fill", ink).text("Time/s");
  // y label
  g.append("text")
    .attr("transform", `translate(${x0 - 38},${(y0 + y1) / 2}) rotate(-90)`)
    .attr("text-anchor","middle").attr("dy","0.35em").attr("font-weight","bold").attr("font-size", 17)
    .attr("fill", ink).text("f/Hz");
  // exponent
  if (p.exp) {
    const t = g.append("text").attr("x", x0 + 2).attr("y", y0 - 5).attr("fill", ink)
      .attr("font-size", 16);
    t.append("tspan").text("\u00D7");
    t.append("tspan").attr("dx", 1).text("10");
    t.append("tspan").attr("dy", -8).attr("font-size", 12).text("-3");
  }
});
</script>
</body></html>
